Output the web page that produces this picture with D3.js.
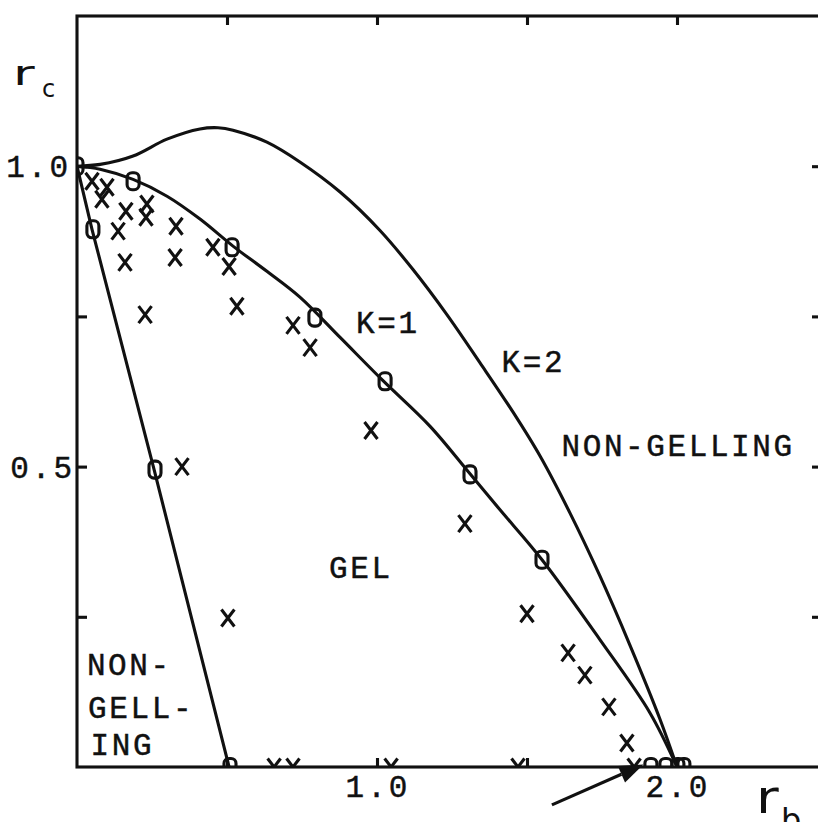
<!DOCTYPE html>
<html>
<head>
<meta charset="utf-8">
<script src="https://cdn.jsdelivr.net/npm/d3@7"></script>
<style>
  body { margin: 0; background: #fff; }
  #chart text { font-family: "Liberation Mono", "DejaVu Sans Mono", monospace; fill: #111; stroke: #111; stroke-width: 0.45; }
  #chart text.sym { font-family: "DejaVu Sans", sans-serif; stroke-width: 0; }
</style>
</head>
<body>
<div id="chart"></div>
<script>
// r_b, r_c pairs
const k1_curve = [[0, 1.0], [0.077, 0.995], [0.187, 0.978], [0.3, 0.95], [0.41, 0.912],
    [0.52, 0.867], [0.633, 0.825], [0.743, 0.782], [0.877, 0.715], [1.02, 0.643],
    [1.177, 0.567], [1.31, 0.488], [1.41, 0.428], [1.55, 0.345], [1.743, 0.212],
    [1.91, 0.09], [2.0, 0]];
const k2_curve = [[0, 1.0], [0.077, 1.003], [0.187, 1.017], [0.3, 1.045], [0.41, 1.062],
    [0.47, 1.064], [0.52, 1.06], [0.633, 1.04], [0.743, 1.007], [0.877, 0.957], [1.01, 0.893],
    [1.12, 0.828], [1.233, 0.753], [1.343, 0.673], [1.453, 0.591], [1.543, 0.518],
    [1.643, 0.423], [1.743, 0.318], [1.843, 0.203], [1.943, 0.08], [2.0, 0]];
const left_line = [[0, 1.0], [0.05, 0.895], [0.257, 0.495], [0.507, 0]];

const circles = [[0, 1.0], [0.187, 0.975], [0.053, 0.895], [0.517, 0.865], [0.793, 0.748],
    [1.027, 0.642], [1.31, 0.487], [1.55, 0.345], [0.26, 0.495], [0.51, 0],
    [1.913, 0], [1.963, 0], [2.003, 0], [2.023, 0]];
const crosses = [[0.05, 0.975], [0.1, 0.965], [0.083, 0.945], [0.163, 0.925], [0.233, 0.937],
    [0.23, 0.915], [0.137, 0.892], [0.33, 0.9], [0.16, 0.84], [0.327, 0.848],
    [0.453, 0.865], [0.507, 0.833], [0.227, 0.753], [0.533, 0.767], [0.72, 0.735],
    [0.777, 0.698], [0.98, 0.56], [1.293, 0.405], [0.35, 0.5], [0.503, 0.248],
    [1.5, 0.255], [1.637, 0.19], [1.693, 0.153], [1.773, 0.1], [1.833, 0.04],
    [1.857, 0], [0.657, 0], [0.72, 0], [1.047, 0], [1.47, 0]];

const x_ticks = [0.5, 1.0, 1.5, 2.0];
const y_ticks = [0.25, 0.5, 0.75, 1.0];
const x_tick_labels = [[1.0, "1.0"], [2.0, "2.0"]];
const y_tick_labels = [[0.5, "0.5"], [1.0, "1.0"]];

// region labels: [r_b, r_c, text]
const region_labels = [[0.93, 0.723, "K=1"], [1.415, 0.658, "K=2"], [1.615, 0.517, "NON-GELLING"],
    [0.84, 0.315, "GEL"], [0.033, 0.153, "NON-"], [0.037, 0.082, "GELL-"], [0.045, 0.02, "ING"]];
const arrow = [[1.583, -0.063], [1.888, 0.004]];

function render_chart() {
    const width = 818, height = 822;
    const lw = 3.1;

    let svg = d3.select('#chart')
        .append("svg")
        .attr("width", width)
        .attr("height", height);

    let x = d3.scaleLinear().domain([0, 2.5]).range([77, 827]);
    let y = d3.scaleLinear().domain([0, 1.25]).range([767, 16]);

    svg.append("clipPath").attr("id", "plotClip")
        .append("rect")
        .attr("x", x(0)).attr("y", y(1.25))
        .attr("width", x(2.5) - x(0)).attr("height", y(0) - y(1.25));

    // frame with inward ticks on all four sides
    let frame = svg.append("g").attr("stroke", "#111").attr("stroke-width", lw).attr("fill", "none");
    frame.append("rect")
        .attr("x", x(0)).attr("y", y(1.25))
        .attr("width", x(2.5) - x(0)).attr("height", y(0) - y(1.25));

    frame.append("g").attr("transform", `translate(0,${y(0)})`)
        .call(d3.axisBottom(x).tickValues(x_ticks).tickSize(-9).tickFormat(""))
        .call(g => g.select(".domain").remove());
    frame.append("g").attr("transform", `translate(0,${y(1.25)})`)
        .call(d3.axisTop(x).tickValues(x_ticks).tickSize(-9).tickFormat(""))
        .call(g => g.select(".domain").remove());
    frame.append("g").attr("transform", `translate(${x(0)},0)`)
        .call(d3.axisLeft(y).tickValues(y_ticks).tickSize(-10).tickFormat(""))
        .call(g => g.select(".domain").remove());
    frame.append("g").attr("transform", `translate(${x(2.5)},0)`)
        .call(d3.axisRight(y).tickValues(y_ticks).tickSize(-15).tickFormat(""))
        .call(g => g.select(".domain").remove());
    frame.selectAll(".tick line").attr("stroke", "#111").attr("stroke-width", lw);

    // tick labels
    svg.append("g").selectAll("text")
        .data(x_tick_labels)
        .enter()
        .append("text")
        .attr("x", d => x(d[0]) + 1)
        .attr("y", 797)
        .attr("text-anchor", "middle")
        .attr("font-size", 31)
        .attr("letter-spacing", 3)
        .text(d => d[1]);
    svg.append("g").selectAll("text")
        .data(y_tick_labels)
        .enter()
        .append("text")
        .attr("x", d => d[0] === 1.0 ? 71 : 75)
        .attr("y", d => y(d[0]) + 11)
        .attr("text-anchor", "end")
        .attr("font-size", 31)
        .attr("letter-spacing", 3)
        .text(d => d[1]);

    // axis names r_c and r_b
    svg.append("text").attr("class", "sym").attr("transform", "translate(13,85) scale(1.55,1)")
        .attr("font-size", 34).text("r");
    svg.append("text").attr("class", "sym").attr("x", 42).attr("y", 97).attr("font-size", 24).text("c");
    svg.append("text").attr("class", "sym").attr("transform", "translate(756,813) scale(1.2,1)")
        .attr("font-size", 46).text("r");
    svg.append("text").attr("class", "sym").attr("x", 781).attr("y", 831).attr("font-size", 32).text("b");

    let line = d3.line()
        .x(d => x(d[0]))
        .y(d => y(d[1]));

    let curves = svg.append("g").attr("clip-path", "url(#plotClip)")
        .attr("fill", "none").attr("stroke", "#111").attr("stroke-width", lw)
        .attr("stroke-linejoin", "round");
    curves.append("path").attr("d", line.curve(d3.curveCatmullRom)(k1_curve));
    curves.append("path").attr("d", line.curve(d3.curveCatmullRom)(k2_curve));
    curves.append("path").attr("d", line.curve(d3.curveLinear)(left_line));

    // markers, clipped at the frame like the plotter did
    let marks = svg.append("g").attr("clip-path", "url(#plotClip)")
        .attr("fill", "none").attr("stroke", "#111").attr("stroke-width", lw);
    marks.selectAll("rect")
        .data(circles)
        .enter()
        .append("rect")
        .attr("x", d => x(d[0]) - 6)
        .attr("y", d => y(d[1]) - 8.5)
        .attr("width", 12)
        .attr("height", 17)
        .attr("rx", 5);
    marks.selectAll("path")
        .data(crosses)
        .enter()
        .append("path")
        .attr("d", d => {
            let cx = x(d[0]), cy = y(d[1]);
            return `M${cx - 6.5},${cy - 8.5}L${cx + 6.5},${cy + 8.5}M${cx + 6.5},${cy - 8.5}L${cx - 6.5},${cy + 8.5}`;
        });

    // region labels
    svg.append("g").selectAll("text")
        .data(region_labels)
        .enter()
        .append("text")
        .attr("x", d => x(d[0]))
        .attr("y", d => y(d[1]))
        .attr("font-size", 31)
        .attr("letter-spacing", 2.6)
        .text(d => d[2]);

    // arrow pointing at the gel point on the axis
    let x1 = x(arrow[0][0]), y1 = y(arrow[0][1]);
    let x2 = x(arrow[1][0]), y2 = y(arrow[1][1]);
    let ang = Math.atan2(y2 - y1, x2 - x1);
    let hl = 24, hw = 9;
    let bx = x2 - hl * Math.cos(ang), by = y2 - hl * Math.sin(ang);
    svg.append("line")
        .attr("x1", x1).attr("y1", y1).attr("x2", bx).attr("y2", by)
        .attr("stroke", "#111").attr("stroke-width", lw);
    svg.append("path")
        .attr("d", `M${x2},${y2}L${bx + hw * Math.sin(ang)},${by - hw * Math.cos(ang)}` +
            `L${bx - hw * Math.sin(ang)},${by + hw * Math.cos(ang)}Z`)
        .attr("fill", "#111");
}

render_chart();
</script>
</body>
</html>
